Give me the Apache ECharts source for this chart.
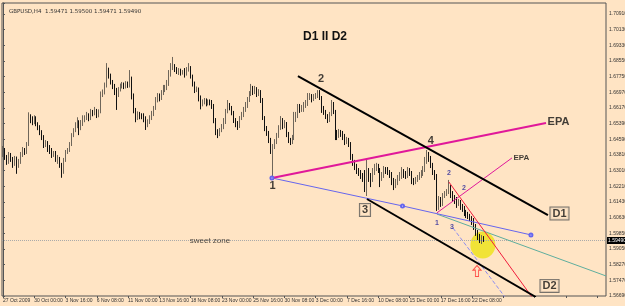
<!DOCTYPE html>
<html><head><meta charset="utf-8">
<script src="https://cdn.jsdelivr.net/npm/echarts@6/dist/echarts.min.js"></script>
<style>html,body{margin:0;padding:0;background:#FFE4C4}#c{width:625px;height:306px}</style>
</head><body><div id="c"></div>
<script>
// ---------- data ----------
const symbolName = 'GBPUSD,H4';
const headerQuote = ['1.59471', '1.59500', '1.59471', '1.59490'];
const chartTitle = 'D1 II D2';
const xTickLabels = ['27 Oct 2009','30 Oct 00:00','3 Nov 16:00','6 Nov 08:00','11 Nov 00:00','13 Nov 16:00','18 Nov 08:00','23 Nov 00:00','25 Nov 16:00','30 Nov 08:00','3 Dec 00:00','7 Dec 16:00','10 Dec 08:00','15 Dec 00:00','17 Dec 16:00','22 Dec 08:00'];
const yTickLabels = ['1.56690','1.57470','1.58270','1.59050','1.59850','1.60630','1.61430','1.62210','1.63010','1.63810','1.64590','1.65390','1.66170','1.66970','1.67750','1.68550','1.69330','1.70130','1.70910'];

const firstOpen = 1.6395;
const closes = [
1.6405,1.6365,1.6345,1.6380,1.6355,1.6335,1.6365,1.6325,1.6345,1.6380,
1.6405,1.6395,1.6430,1.6566,1.6556,1.6546,1.6566,1.6536,1.6521,1.6496,
1.6471,1.6430,1.6440,1.6415,1.6405,1.6380,1.6390,1.6355,1.6365,1.6330,
1.6294,1.6355,1.6395,1.6405,1.6430,1.6481,1.6506,1.6526,1.6546,1.6516,
1.6536,1.6556,1.6566,1.6576,1.6566,1.6597,1.6587,1.6607,1.6581,1.6597,
1.6682,1.6692,1.6728,1.6808,1.6778,1.6748,1.6728,1.6697,1.6682,1.6707,
1.6728,1.6733,1.6723,1.6738,1.6728,1.6758,1.6682,1.6607,1.6566,1.6586,
1.6576,1.6571,1.6566,1.6536,1.6546,1.6566,1.6586,1.6617,1.6657,1.6677,
1.6667,1.6692,1.6707,1.6717,1.6738,1.6783,1.6818,1.6828,1.6808,1.6798,
1.6803,1.6793,1.6798,1.6788,1.6808,1.6818,1.6778,1.6738,1.6707,1.6712,
1.6667,1.6637,1.6647,1.6657,1.6637,1.6647,1.6642,1.6627,1.6556,1.6496,
1.6486,1.6506,1.6521,1.6546,1.6597,1.6627,1.6617,1.6592,1.6556,1.6536,
1.6526,1.6566,1.6581,1.6607,1.6627,1.6657,1.6687,1.6717,1.6697,1.6707,
1.6687,1.6697,1.6657,1.6566,1.6516,1.6491,1.6455,1.6405,1.6425,1.6445,
1.6476,1.6516,1.6556,1.6526,1.6536,1.6486,1.6455,1.6445,1.6466,1.6566,
1.6576,1.6617,1.6607,1.6617,1.6627,1.6637,1.6667,1.6677,1.6657,1.6672,
1.6677,1.6692,1.6667,1.6607,1.6597,1.6576,1.6556,1.6586,1.6637,1.6597,
1.6496,1.6476,1.6496,1.6486,1.6476,1.6445,1.6455,1.6435,1.6375,1.6345,
1.6324,1.6304,1.6294,1.6274,1.6264,1.6224,1.6304,1.6274,1.6254,1.6294,
1.6314,1.6324,1.6304,1.6264,1.6274,1.6304,1.6299,1.6294,1.6284,1.6254,
1.6234,1.6244,1.6264,1.6274,1.6294,1.6284,1.6274,1.6299,1.6289,1.6254,
1.6244,1.6254,1.6264,1.6274,1.6284,1.6304,1.6345,1.6380,1.6365,1.6330,
1.6294,1.6274,1.6113,1.6153,1.6133,1.6173,1.6183,1.6193,1.6213,1.6183,
1.6163,1.6153,1.6133,1.6143,1.6123,1.6113,1.6093,1.6083,1.6072,1.6062,
1.6052,1.6022,1.5992,1.5972,1.5951,1.5961,1.5949];
const highs = [
1.6425,1.6415,1.6380,1.6395,1.6390,1.6370,1.6375,1.6372,1.6360,1.6395,
1.6420,1.6415,1.6445,1.6595,1.6585,1.6575,1.6580,1.6575,1.6545,1.6530,
1.6505,1.6480,1.6455,1.6450,1.6430,1.6415,1.6400,1.6400,1.6380,1.6370,
1.6340,1.6365,1.6405,1.6415,1.6445,1.6490,1.6515,1.6545,1.6570,1.6555,
1.6556,1.6580,1.6580,1.6597,1.6590,1.6612,1.6607,1.6622,1.6612,1.6610,
1.6700,1.6710,1.6745,1.6843,1.6820,1.6790,1.6758,1.6738,1.6718,1.6722,
1.6740,1.6748,1.6745,1.6752,1.6750,1.6808,1.6775,1.6690,1.6617,1.6600,
1.6597,1.6590,1.6590,1.6575,1.6560,1.6580,1.6602,1.6627,1.6672,1.6692,
1.6690,1.6707,1.6733,1.6733,1.6758,1.6808,1.6843,1.6874,1.6838,1.6823,
1.6818,1.6815,1.6808,1.6818,1.6823,1.6843,1.6828,1.6785,1.6750,1.6725,
1.6720,1.6680,1.6660,1.6667,1.6665,1.6660,1.6660,1.6657,1.6637,1.6566,
1.6510,1.6516,1.6536,1.6566,1.6612,1.6657,1.6642,1.6627,1.6602,1.6566,
1.6551,1.6576,1.6597,1.6622,1.6647,1.6672,1.6702,1.6738,1.6728,1.6728,
1.6722,1.6712,1.6707,1.6667,1.6576,1.6526,1.6501,1.6466,1.6435,1.6460,
1.6491,1.6530,1.6576,1.6566,1.6556,1.6546,1.6496,1.6466,1.6481,1.6597,
1.6597,1.6637,1.6637,1.6632,1.6647,1.6657,1.6692,1.6692,1.6687,1.6687,
1.6692,1.6707,1.6707,1.6677,1.6627,1.6607,1.6586,1.6597,1.6657,1.6647,
1.6607,1.6506,1.6511,1.6506,1.6501,1.6486,1.6471,1.6466,1.6445,1.6385,
1.6355,1.6335,1.6314,1.6304,1.6289,1.6304,1.6355,1.6314,1.6289,1.6314,
1.6335,1.6340,1.6335,1.6314,1.6294,1.6324,1.6319,1.6319,1.6304,1.6294,
1.6264,1.6259,1.6279,1.6294,1.6319,1.6309,1.6299,1.6319,1.6314,1.6299,
1.6264,1.6269,1.6279,1.6294,1.6304,1.6324,1.6370,1.6405,1.6395,1.6375,
1.6340,1.6304,1.6284,1.6173,1.6168,1.6188,1.6198,1.6208,1.6254,1.6228,
1.6198,1.6178,1.6168,1.6158,1.6153,1.6133,1.6123,1.6103,1.6093,1.6083,
1.6072,1.6062,1.6032,1.6002,1.5982,1.5976,1.5971];
const lows = [
1.6370,1.6355,1.6330,1.6335,1.6345,1.6315,1.6325,1.6285,1.6315,1.6335,
1.6370,1.6380,1.6385,1.6425,1.6540,1.6530,1.6535,1.6525,1.6505,1.6480,
1.6455,1.6415,1.6420,1.6395,1.6385,1.6365,1.6370,1.6345,1.6335,1.6315,
1.6265,1.6285,1.6345,1.6385,1.6395,1.6425,1.6470,1.6495,1.6515,1.6480,
1.6505,1.6526,1.6545,1.6556,1.6550,1.6556,1.6575,1.6580,1.6566,1.6570,
1.6590,1.6672,1.6685,1.6720,1.6765,1.6735,1.6712,1.6682,1.6607,1.6672,
1.6700,1.6715,1.6712,1.6715,1.6718,1.6720,1.6660,1.6590,1.6545,1.6556,
1.6560,1.6560,1.6545,1.6506,1.6520,1.6536,1.6556,1.6576,1.6607,1.6645,
1.6650,1.6657,1.6682,1.6697,1.6707,1.6728,1.6775,1.6808,1.6798,1.6788,
1.6783,1.6780,1.6785,1.6770,1.6780,1.6800,1.6765,1.6725,1.6692,1.6697,
1.6650,1.6610,1.6625,1.6635,1.6625,1.6630,1.6630,1.6612,1.6540,1.6480,
1.6465,1.6475,1.6495,1.6510,1.6536,1.6590,1.6605,1.6580,1.6541,1.6520,
1.6506,1.6516,1.6556,1.6571,1.6597,1.6617,1.6647,1.6677,1.6682,1.6687,
1.6672,1.6677,1.6642,1.6556,1.6500,1.6476,1.6440,1.6385,1.6264,1.6410,
1.6435,1.6466,1.6506,1.6510,1.6515,1.6470,1.6440,1.6430,1.6435,1.6455,
1.6546,1.6566,1.6592,1.6597,1.6597,1.6617,1.6627,1.6657,1.6645,1.6652,
1.6662,1.6667,1.6657,1.6592,1.6582,1.6561,1.6541,1.6546,1.6576,1.6586,
1.6455,1.6455,1.6466,1.6471,1.6455,1.6430,1.6435,1.6420,1.6355,1.6325,
1.6304,1.6284,1.6274,1.6259,1.6244,1.6193,1.6173,1.6244,1.6218,1.6244,
1.6279,1.6299,1.6289,1.6218,1.6249,1.6264,1.6284,1.6279,1.6264,1.6228,
1.6203,1.6213,1.6228,1.6249,1.6259,1.6264,1.6259,1.6264,1.6274,1.6233,
1.6228,1.6233,1.6244,1.6254,1.6264,1.6274,1.6294,1.6335,1.6345,1.6314,
1.6279,1.6254,1.6098,1.6103,1.6118,1.6123,1.6163,1.6173,1.6183,1.6163,
1.6143,1.6133,1.6113,1.6123,1.6103,1.6093,1.6072,1.6062,1.6057,1.6047,
1.6027,1.6002,1.5972,1.5951,1.5936,1.5931,1.5941];

// drawn objects: [bar index, price]
const d1Line = [[150.9, 1.6778], [278.8, 1.6077]];
const d2Line = [[186.2, 1.6158], [272.6, 1.5664]];
const epaLine = [[137.6, 1.6264], [277.8, 1.6541]];
const epaSmallLine = [[222.0, 1.6088], [260.4, 1.6365]];
const blueLine = [[137.6, 1.6264], [204.4, 1.6123], [270.1, 1.5977]];
const tealLine = [[222.0, 1.6082], [308.5, 1.5770]];
const redLine = [[228.1, 1.6244], [270.6, 1.5664]];
const dashedLine = [[230.2, 1.6012], [256.8, 1.5664]];
const yellowSpot = [245.5, 1.5926];
const arrowSpot = [242.5, 1.5795];
const waveTexts = ['1', '2', '4'];
const wavePoints = [[137.9, 1.6224], [162.7, 1.6763], [218.9, 1.6450]];
const boxTexts = ['3', 'D1', 'D2'];
const boxPoints = [[185.2, 1.6103], [284.7, 1.6085], [279.6, 1.5720]];
const subWaveTexts = ['2', '2', '1', '3'];
const subWavePoints = [[228.1, 1.6289], [235.8, 1.6213], [222.0, 1.6037], [229.7, 1.6017]];
const epaBigPoint = [284.2, 1.6544];
const epaSmallPoint = [265.2, 1.6367];
const sweetZonePoint = [105.9, 1.5946];

// ---------- build ----------
const N_SLOTS = 309;
const Y0 = 1.5669, STEP = 0.0079, YTOP = 1.7146;
const toY = p => (p - Y0) / STEP;
const cats = Array.from({length: N_SLOTS}, (_, i) => String(i));
const ohlc = closes.map((c, i) => [toY(i ? closes[i - 1] : firstOpen), toY(c), toY(lows[i]), toY(highs[i])]);
const pts = arr => arr.map(([i, p]) => [i, toY(p)]);
const lastClose = closes[closes.length - 1];

function lineSeries(data, color, width, type) {
  return {type: 'line', xAxisIndex: 1, data: pts(data), symbol: 'none', silent: true, z: 5,
          lineStyle: {color: color, width: width, type: type || 'solid'}, animation: false};
}
function textSeries(texts, points, labelStyle) {
  return {type: 'scatter', xAxisIndex: 1, symbolSize: 0, silent: true, z: 8,
          data: texts.map((t, k) => ({name: t, value: [points[k][0], toY(points[k][1])]})),
          label: Object.assign({show: true, position: 'inside', formatter: '{b}'}, labelStyle)};
}

const chart = echarts.init(document.getElementById('c'), null, {renderer: 'canvas'});
chart.setOption({
  animation: false,
  backgroundColor: '#FFE4C4',
  title: [
    {text: symbolName + '  ' + headerQuote.join(' '), left: 4, top: 4,
     textStyle: {fontSize: 5.5, fontWeight: 'normal', color: '#333', fontFamily: 'DejaVu Sans'}},
    {text: chartTitle, left: 298, top: 26,
     textStyle: {fontSize: 12, fontWeight: 'bold', color: '#111', fontFamily: 'Liberation Sans'}}
  ],
  grid: {left: 2, right: 19, top: 3, bottom: 10, show: true, borderColor: '#555', borderWidth: 1,
         backgroundColor: 'transparent', containLabel: false, outerBoundsMode: 'none'},
  xAxis: [
    {type: 'category', data: cats, boundaryGap: true,
     axisLine: {show: false},
     axisTick: {show: true, alignWithLabel: true, interval: 15, length: 2, lineStyle: {color: '#555'}},
     axisLabel: {interval: 15, align: 'left', margin: 2, fontSize: 5, color: '#333', fontFamily: 'Liberation Sans',
                 showMinLabel: true, hideOverlap: false,
                 formatter: (v, idx) => xTickLabels[idx / 16] || ''},
     splitLine: {show: false}},
    {type: 'value', min: -0.5, max: N_SLOTS - 0.5, show: false}
  ],
  yAxis: {type: 'value', position: 'right', min: 0, max: toY(YTOP), interval: 1,
    axisLine: {show: true, lineStyle: {color: '#555'}},
    axisTick: {show: true, length: 2, lineStyle: {color: '#555'}},
    axisLabel: {margin: 3, fontSize: 5, color: '#333', fontFamily: 'Liberation Sans',
                formatter: v => yTickLabels[Math.round(v)] || ''},
    splitLine: {show: false}},
  series: [
    {type: 'scatter', xAxisIndex: 1, data: pts([yellowSpot]), symbol: 'circle', symbolSize: [25, 27],
     itemStyle: {color: '#eee214'}, silent: true, z: 1},
    {type: 'candlestick', data: ohlc, barWidth: 1.2, z: 3,
     itemStyle: {color: '#a89c8c', color0: '#111', borderColor: '#6f665a', borderColor0: '#111', borderWidth: 1},
     markLine: {symbol: 'none', silent: true, animation: false,
       lineStyle: {color: '#aaa', type: 'dotted', width: 1},
       label: {position: 'end', formatter: lastClose.toFixed(5), backgroundColor: '#000', color: '#fff',
               fontSize: 5, padding: [1, 1], distance: 1, fontFamily: 'Liberation Sans'},
       data: [{yAxis: toY(lastClose)}]}},
    lineSeries(tealLine, '#5fae9e', 1),
    lineSeries(dashedLine, '#8c8cf0', 1, 'dashed'),
    Object.assign(lineSeries(blueLine, '#6666ee', 1), {symbol: 'emptyCircle', symbolSize: 3, showSymbol: true,
       itemStyle: {color: '#6666ee'}}),
    lineSeries(epaLine, '#e0189a', 2),
    lineSeries(epaSmallLine, '#e0189a', 1),
    lineSeries(redLine, '#f01c3c', 1),
    lineSeries(d1Line, '#000', 2),
    lineSeries(d2Line, '#000', 2),
    {type: 'scatter', xAxisIndex: 1, data: pts([arrowSpot]), silent: true, z: 6,
     symbol: 'path://M5,0 L10,5 L7,5 L7,12 L3,12 L3,5 L0,5 Z', symbolSize: [8, 11],
     itemStyle: {color: 'rgba(0,0,0,0)', borderColor: '#ff2a2a', borderWidth: 1}},
    textSeries(waveTexts, wavePoints, {fontSize: 11, fontWeight: 'bold', color: '#111', fontFamily: 'Liberation Sans'}),
    textSeries(boxTexts, boxPoints, {fontSize: 11, fontWeight: 'bold', color: '#111', fontFamily: 'Liberation Sans',
       borderColor: '#555', borderWidth: 1, padding: [1, 2, 0, 2], backgroundColor: '#FFE4C4'}),
    textSeries(subWaveTexts, subWavePoints, {fontSize: 7, fontWeight: 'bold', color: '#1f1f99', fontFamily: 'Liberation Sans'}),
    textSeries(['EPA'], [epaBigPoint], {fontSize: 11, fontWeight: 'bold', color: '#111', fontFamily: 'Liberation Sans'}),
    textSeries(['EPA'], [epaSmallPoint], {fontSize: 8, fontWeight: 'bold', color: '#111', fontFamily: 'Liberation Sans'}),
    textSeries(['sweet zone'], [sweetZonePoint], {fontSize: 8, color: '#222', fontFamily: 'Liberation Sans'})
  ]
});
</script>
</body></html>
